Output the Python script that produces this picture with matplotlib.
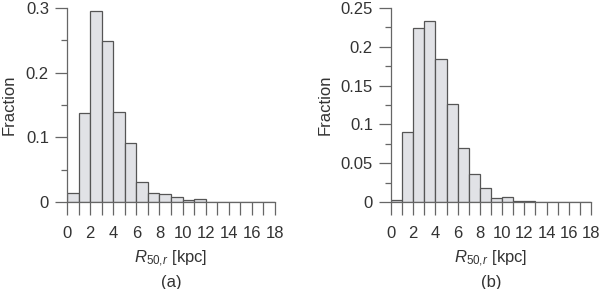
import matplotlib
matplotlib.use("Agg")
import matplotlib.pyplot as plt
import numpy as np
from matplotlib.ticker import MultipleLocator

plt.rcParams['font.family'] = ['Liberation Sans', 'DejaVu Sans']
plt.rcParams['mathtext.fontset'] = 'custom'
plt.rcParams['mathtext.rm'] = 'Liberation Sans'
plt.rcParams['mathtext.it'] = 'Liberation Sans:italic'
plt.rcParams['mathtext.bf'] = 'Liberation Sans:bold'

bin_edges = list(range(0, 19))
frac_a = [0.014, 0.137, 0.295, 0.249, 0.140, 0.091, 0.031, 0.014, 0.012, 0.007,
          0.0036, 0.0047, 0, 0, 0, 0, 0, 0]
frac_b = [0.002, 0.090, 0.224, 0.234, 0.185, 0.126, 0.070, 0.036, 0.0176, 0.005,
          0.006, 0.0017, 0.0009, 0.0004, 0, 0, 0.0004, 0]
yticks_a = [0, 0.1, 0.2, 0.3]
yticklabels_a = ['0', '0.1', '0.2', '0.3']
yticks_b = [0, 0.05, 0.1, 0.15, 0.2, 0.25]
yticklabels_b = ['0', '0.05', '0.1', '0.15', '0.2', '0.25']
xticklabels = [str(v) for v in range(0, 19, 2)]
panel_labels = ['(a)', '(b)']

text_c = '#333333'
spine_c = '#666666'
fill_c = '#e1e2e6'
edge_c = '#555555'
FS = 12

fig = plt.figure(figsize=(6.0, 2.89), dpi=100)
ax_a = fig.add_axes([0.1117, 0.301, 0.3467, 0.671])
ax_b = fig.add_axes([0.6517, 0.301, 0.3333, 0.671])

def style(ax, fr, yt, ytl, ymin_minor, label):
    lefts = np.array(bin_edges[:-1])
    ax.bar(lefts, fr, width=1.0, align='edge', color=fill_c, edgecolor=edge_c,
           linewidth=0.9, zorder=2)
    ax.set_xlim(0, 18)
    ax.set_ylim(0, yt[-1])
    for s in ['top', 'right']:
        ax.spines[s].set_visible(False)
    for s in ['left', 'bottom']:
        ax.spines[s].set_color(spine_c)
        ax.spines[s].set_linewidth(0.9)
    ax.set_xticks(bin_edges, minor=True)
    ax.set_xticks(list(range(0, 19, 2)))
    ax.set_xticklabels(xticklabels)
    ax.set_yticks(yt)
    ax.set_yticklabels(ytl)
    ax.yaxis.set_minor_locator(MultipleLocator(ymin_minor))
    ax.tick_params(axis='x', which='both', direction='out', length=9, width=0.9,
                   color=spine_c, labelsize=FS, labelcolor=text_c, pad=8)
    ax.tick_params(axis='y', which='major', direction='out', length=9, width=0.9,
                   color=spine_c, labelsize=FS, labelcolor=text_c, pad=4)
    ax.tick_params(axis='y', which='minor', direction='out', length=4.5, width=0.9,
                   color=spine_c)
    ax.set_xlabel(r'$R_{50,\!r}$ [kpc]', fontsize=FS, color=text_c, labelpad=6)
    ax.set_ylabel('Fraction', fontsize=FS, color=text_c)
    ax.text(0.5, -0.415, label, transform=ax.transAxes, ha='center', va='center',
            fontsize=FS, color=text_c)

style(ax_a, frac_a, yticks_a, yticklabels_a, 0.05, panel_labels[0])
style(ax_b, frac_b, yticks_b, yticklabels_b, 0.025, panel_labels[1])
ax_a.yaxis.set_label_coords(-0.276, 0.5)
ax_b.yaxis.set_label_coords(-0.33, 0.5)
for ax in (ax_a, ax_b):
    ax.yaxis.label.set_va('center')

fig.savefig('out.png', dpi=100)
